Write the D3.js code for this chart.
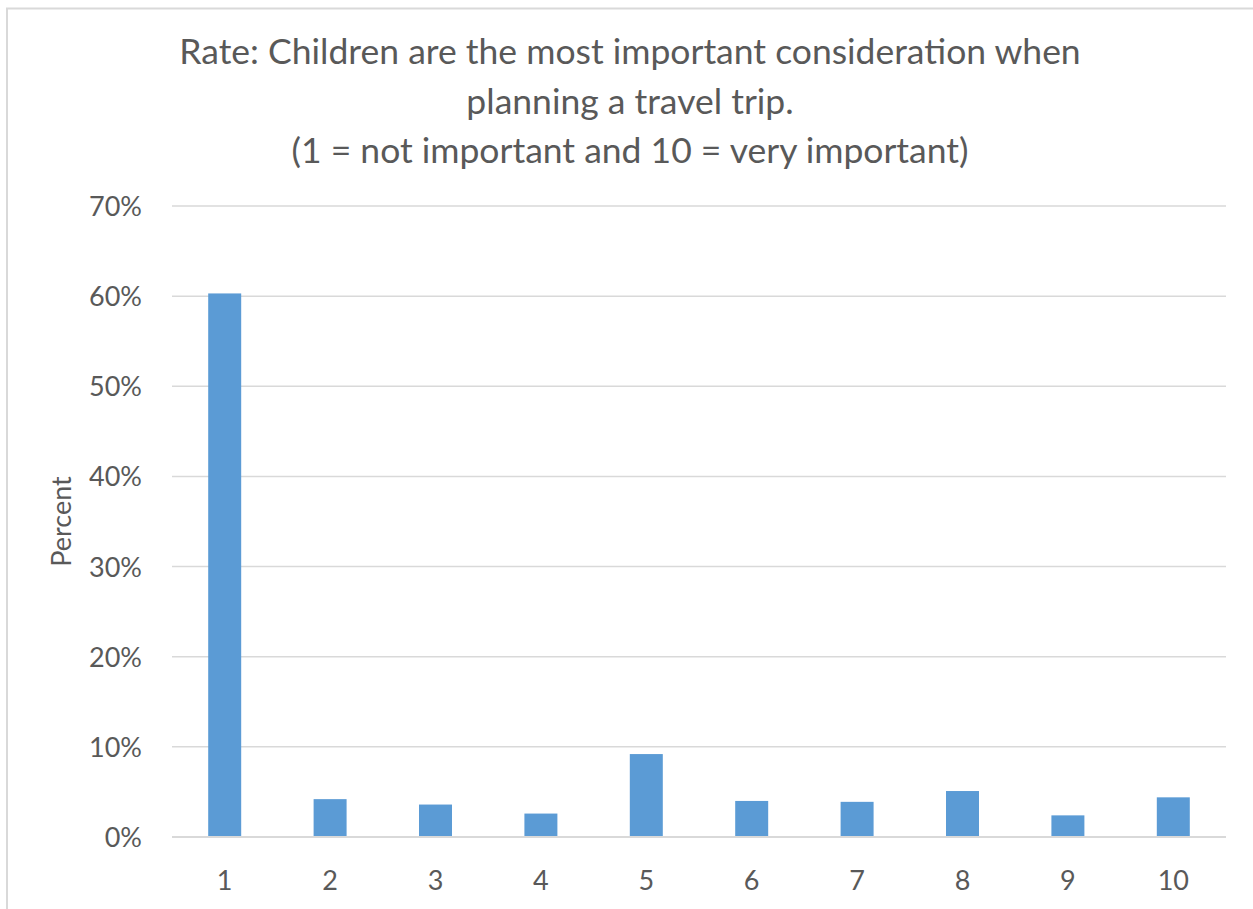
<!DOCTYPE html>
<html>
<head>
<meta charset="utf-8">
<script src="https://cdn.jsdelivr.net/npm/d3@7"></script>
<style>
  html, body { margin: 0; padding: 0; background: #fff; }
  svg { display: block; }
  text { font-family: Lato, "Open Sans", sans-serif; fill: #595959; }
</style>
</head>
<body>
<div id="chart"></div>
<script>
const categories = ["1", "2", "3", "4", "5", "6", "7", "8", "9", "10"];
const percentValues = [0.603, 0.042, 0.036, 0.026, 0.092, 0.040, 0.039, 0.051, 0.024, 0.044];
const yTicks = [0, 0.1, 0.2, 0.3, 0.4, 0.5, 0.6, 0.7];
const titleLines = [
  "Rate: Children are the most important consideration when",
  "planning a travel trip.",
  "(1 = not important and 10 = very important)"
];
const yAxisLabel = "Percent";

const W = 1253, H = 909;
const plot = { left: 172, right: 1226, top: 206, bottom: 837 };

const svg = d3.select("#chart").append("svg")
  .attr("width", W).attr("height", H);

svg.append("rect").attr("width", W).attr("height", H).attr("fill", "#fff");

// chart border (top and left visible)
svg.append("path")
  .attr("d", `M7,${H} L7,8.5 L${W},8.5`)
  .attr("fill", "none")
  .attr("stroke", "#d9d9d9")
  .attr("stroke-width", 2);

const x = d3.scaleBand()
  .domain(categories)
  .range([plot.left, plot.right])
  .paddingInner(0.687)
  .paddingOuter(0.3435);

const y = d3.scaleLinear()
  .domain([0, 0.7])
  .range([plot.bottom, plot.top]);

// gridlines
svg.append("g")
  .selectAll("line")
  .data(yTicks)
  .join("line")
  .attr("x1", plot.left).attr("x2", plot.right)
  .attr("y1", d => y(d)).attr("y2", d => y(d))
  .attr("stroke", "#d9d9d9")
  .attr("stroke-width", 1.5);

// y axis labels
const yAxis = d3.axisLeft(y).tickValues(yTicks).tickFormat(d3.format(".0%")).tickSize(0).tickPadding(0);
const gy = svg.append("g").attr("transform", `translate(${plot.left - 30},0)`).call(yAxis);
gy.select(".domain").remove();
gy.selectAll("text")
  .attr("font-size", 27)
  .attr("font-family", "Lato, sans-serif")
  .attr("fill", "#595959")
  .attr("dy", "0.35em");

// x axis labels
const xAxis = d3.axisBottom(x).tickSize(0).tickPadding(0);
const gx = svg.append("g").attr("transform", `translate(0,${plot.bottom + 44})`).call(xAxis);
gx.select(".domain").remove();
gx.selectAll("text")
  .attr("font-size", 27)
  .attr("font-family", "Lato, sans-serif")
  .attr("fill", "#595959")
  .attr("dy", "0.35em");

// bars
svg.append("g")
  .selectAll("rect")
  .data(percentValues)
  .join("rect")
  .attr("x", (d, i) => x(categories[i]))
  .attr("width", x.bandwidth())
  .attr("y", d => y(d))
  .attr("height", d => y(0) - y(d))
  .attr("fill", "#5b9bd5");

// baseline
svg.append("line")
  .attr("x1", plot.left).attr("x2", plot.right)
  .attr("y1", y(0)).attr("y2", y(0))
  .attr("stroke", "#d9d9d9").attr("stroke-width", 2);

// title
svg.append("g")
  .selectAll("text")
  .data(titleLines)
  .join("text")
  .attr("x", 630)
  .attr("y", (d, i) => 64 + i * 49.5)
  .attr("text-anchor", "middle")
  .attr("font-size", 35.5)
  .text(d => d);

// y axis title
svg.append("text")
  .attr("transform", `translate(71,${(plot.top + plot.bottom) / 2}) rotate(-90)`)
  .attr("text-anchor", "middle")
  .attr("font-size", 27)
  .text(yAxisLabel);
</script>
</body>
</html>
